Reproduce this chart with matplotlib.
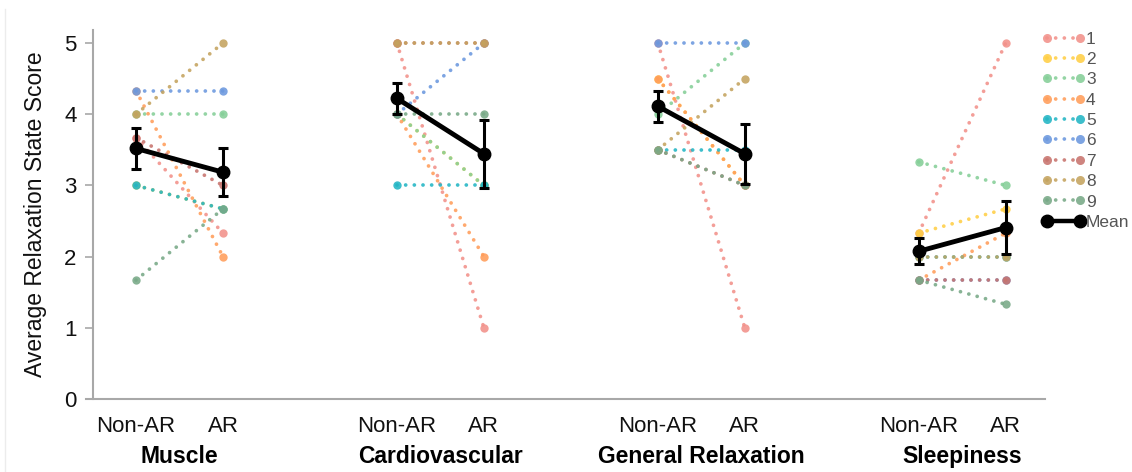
import numpy as np
import matplotlib
matplotlib.use("Agg")
import matplotlib.pyplot as plt
from matplotlib.lines import Line2D

plt.rcParams["font.family"] = ["Liberation Sans", "DejaVu Sans"]

# participant scores per measure (participants 1..9)
participants = ["1", "2", "3", "4", "5", "6", "7", "8", "9"]
groups = ["Muscle", "Cardiovascular", "General Relaxation", "Sleepiness"]
conditions = ["Non-AR", "AR"]

muscle_non_ar = [3.67, 3.0, 4.0, 4.33, 3.0, 4.33, 3.67, 4.0, 1.67]
muscle_ar = [2.33, 2.67, 4.0, 2.0, 2.67, 4.33, 3.0, 5.0, 2.67]
cardio_non_ar = [5, 4, 4, 4, 3, 4, 5, 5, 4]
cardio_ar = [1, 3, 3, 2, 3, 5, 5, 5, 4]
relax_non_ar = [5, 4.5, 4, 4.5, 3.5, 5, 3.5, 3.5, 3.5]
relax_ar = [1, 3, 5, 3, 3.5, 5, 3, 4.5, 3]
sleep_non_ar = [2.33, 2.33, 3.33, 1.67, 2, 1.67, 1.67, 2, 1.67]
sleep_ar = [5, 2.67, 3, 2.33, 2, 1.67, 1.67, 2, 1.33]

colors = ["#f2918a", "#ffcf45", "#85cf98", "#ff9d5a", "#22b5c4",
          "#6b98de", "#c8736d", "#c4a35e", "#78a987"]

pairs = [(muscle_non_ar, muscle_ar), (cardio_non_ar, cardio_ar),
         (relax_non_ar, relax_ar), (sleep_non_ar, sleep_ar)]
group_x = [0, 3, 6, 9]

fig = plt.figure(figsize=(11.32, 4.72), dpi=100)
ax = fig.add_axes([0.0822, 0.1547, 0.8408, 0.7813])

dot_style = (0, (0.01, 2.3))
handles = []
for i, name in enumerate(participants):
    for g, (pre, post) in zip(group_x, pairs):
        ax.plot([g, g + 1], [pre[i], post[i]], linestyle=dot_style,
                dash_capstyle="round", lw=2.7, color=colors[i], alpha=0.88,
                marker="o", ms=6, mec="none")
    handles.append(Line2D([], [], linestyle=dot_style, dash_capstyle="round",
                          lw=2.7, color=colors[i], alpha=0.88, marker="o",
                          ms=6.5, mec="none", label=name))

for g, (pre, post) in zip(group_x, pairs):
    vals = [np.array(pre, float), np.array(post, float)]
    means = [v.mean() for v in vals]
    se = [v.std(ddof=1) / np.sqrt(len(v)) for v in vals]
    ax.errorbar([g, g + 1], means, yerr=se, color="black", lw=3.5,
                marker="o", ms=9, elinewidth=2.2, capsize=3.5, capthick=2.2,
                zorder=5)
handles.append(Line2D([], [], color="black", lw=3.2, marker="o", ms=9,
                      label="Mean"))

ax.set_xlim(-0.494, 10.45)
ax.set_ylim(0, 5.18)
ax.set_yticks(range(6))
ticks = []
for g in group_x:
    ticks += [g, g + 1]
ax.set_xticks(ticks)
ax.set_xticklabels(conditions * 4)
ax.tick_params(axis="x", length=0, pad=12, labelsize=16, labelcolor="#111111")
ax.tick_params(axis="y", length=6, width=1.2, color="#a8a8a8", labelsize=16,
               labelcolor="#111111", pad=6)
for s in ["top", "right"]:
    ax.spines[s].set_visible(False)
for s in ["left", "bottom"]:
    ax.spines[s].set_color("#a8a8a8")
    ax.spines[s].set_linewidth(1.5)
ax.spines["bottom"].set_bounds(-0.57, 10.45)

for g, name in zip(group_x, groups):
    ax.text(g + 0.5, -0.155, name, transform=ax.get_xaxis_transform(),
            ha="center", va="center", fontsize=16.5, fontweight="bold")

ax.set_ylabel("Average Relaxation State Score", fontsize=16.5,
              color="#111111", labelpad=12)

leg = ax.legend(handles=handles, loc="upper left",
                bbox_to_anchor=(0.914, 0.948),
                bbox_transform=fig.transFigure, frameon=False, fontsize=12.5,
                handlelength=2.5, handletextpad=0.05, labelspacing=0.3,
                numpoints=2, borderaxespad=0)
for t in leg.get_texts():
    t.set_color("#555555")

fig.add_artist(Line2D([0.0045, 0.0045], [0.0, 0.98], color="#ececec", lw=1))

fig.savefig("out.png", dpi=100)
